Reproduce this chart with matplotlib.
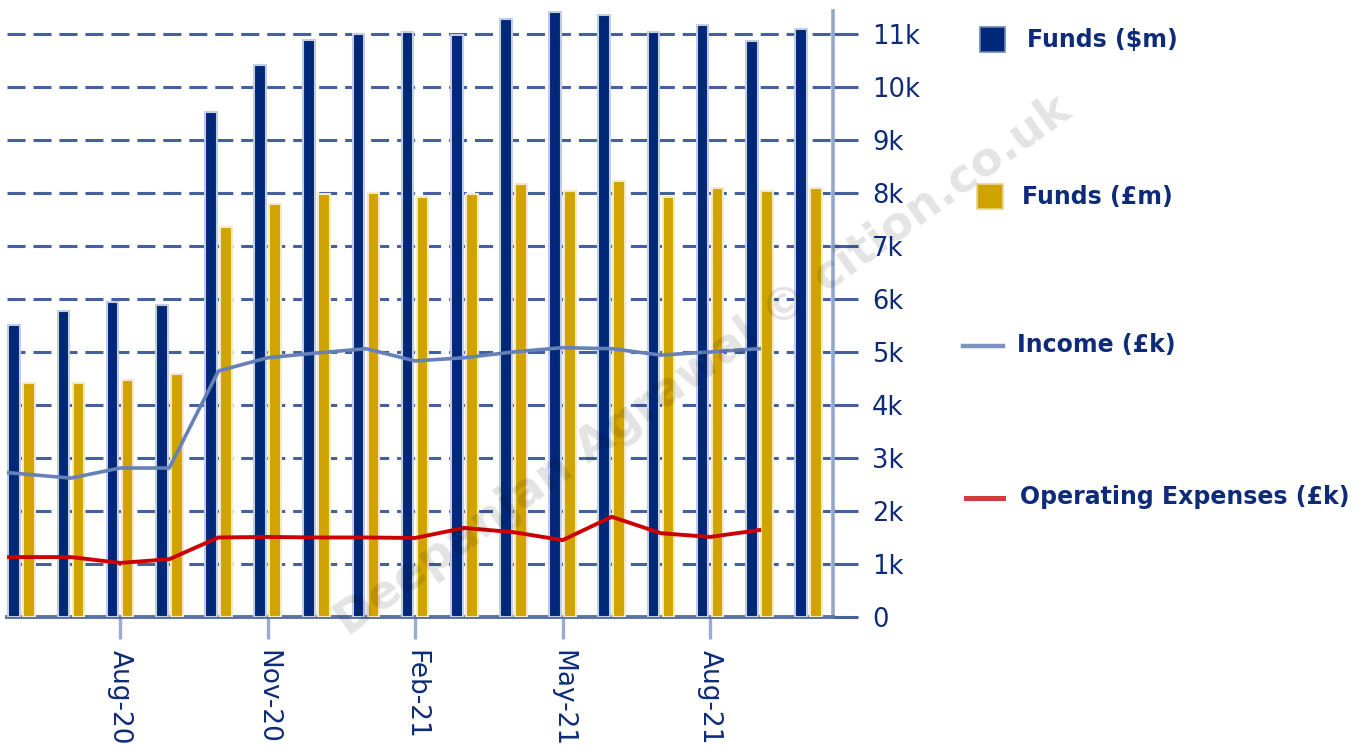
import numpy as np
import matplotlib
matplotlib.use("Agg")
import matplotlib.pyplot as plt
from matplotlib.patches import Rectangle
from matplotlib.lines import Line2D

# months shown as bar groups (Jun-20 .. Oct-21)
months = ['Jun-20', 'Jul-20', 'Aug-20', 'Sep-20', 'Oct-20', 'Nov-20', 'Dec-20', 'Jan-21',
          'Feb-21', 'Mar-21', 'Apr-21', 'May-21', 'Jun-21', 'Jul-21', 'Aug-21', 'Sep-21', 'Oct-21']
funds_usd = [5510, 5770, 5940, 5890, 9530, 10420, 10890, 11000, 11040, 10980,
             11280, 11420, 11360, 11040, 11170, 10870, 11090]
funds_gbp = [4420, 4420, 4470, 4580, 7360, 7790, 7980, 8000, 7920, 7980,
             8170, 8040, 8230, 7920, 8090, 8040, 8090]

# line series run from May-20 (just off the left edge) to Sep-21
line_months = ['May-20'] + months[:16]
income = [2780, 2700, 2620, 2810, 2810, 4640, 4890, 4980, 5060, 4830, 4890,
          5000, 5080, 5060, 4940, 5000, 5060]
opex = [1130, 1130, 1130, 1020, 1090, 1500, 1510, 1500, 1500, 1490, 1680,
        1600, 1450, 1890, 1580, 1510, 1640]

shown_ticks = ['Aug-20', 'Nov-20', 'Feb-21', 'May-21', 'Aug-21']
legend_labels = ['Funds ($m)', 'Funds (£m)', 'Income (£k)', 'Operating Expenses (£k)']

NAVY = '#002878'
GOLD = '#d0a300'
INCOME_C = '#6680b8'
RED = '#cc0000'
GRID = '#45609e'
TXT = '#0d2b78'

W, H = 1358, 747
fig = plt.figure(figsize=(W / 100, H / 100), dpi=100)
ax = fig.add_axes([7 / W, 130 / H, (833 - 7) / W, (617 - 11) / H])

x = np.arange(len(months))
xl = np.arange(-1, len(line_months) - 1)
off = 0.152
ax.bar(x - off, funds_usd, width=0.235, color=NAVY, edgecolor='#c3cce2', linewidth=1.5, zorder=3)
ax.bar(x + off, funds_gbp, width=0.235, color=GOLD, edgecolor='#f3e9c4', linewidth=1.5, zorder=3)
ax.plot(xl, income, color=INCOME_C, lw=2.6, zorder=4, solid_joinstyle='round')
ax.plot(xl, opex, color=RED, lw=2.8, zorder=4, solid_joinstyle='round')

ax.set_xlim(-0.3, 16.5)
ax.set_ylim(0, 11430)

ax.yaxis.tick_right()
ax.set_yticks(np.arange(0, 11001, 1000))
ax.set_yticklabels(['0'] + [f'{k}k' for k in range(1, 12)])
ax.set_xticks([months.index(m) for m in shown_ticks])
ax.set_xticklabels(shown_ticks, rotation=-90)

ax.grid(axis='y', color=GRID, lw=2.2, linestyle=(0, (5.9, 2.6)), zorder=0)
ax.set_axisbelow(True)

for s in ['left', 'top']:
    ax.spines[s].set_visible(False)
ax.spines['bottom'].set_color('#5a70a8')
ax.spines['bottom'].set_linewidth(2.8)
ax.spines['right'].set_color('#95a6cc')
ax.spines['right'].set_linewidth(2.6)

ax.tick_params(axis='y', direction='out', length=18, width=2.2, color=GRID,
               pad=10, labelsize=18.5, labelcolor=TXT)
ax.tick_params(axis='x', direction='out', length=16, width=2.4, color='#9aaad0',
               pad=8, labelsize=19, labelcolor=TXT)
for lab in ax.get_yticklabels():
    lab.set_horizontalalignment('left')

# legend drawn by hand, entries spaced down the right side
def fx(px):
    return px / W

def fy(py):
    return 1 - py / H

fig.patches.append(Rectangle((fx(980), fy(52)), 25 / W, 25 / H, transform=fig.transFigure,
                             facecolor=NAVY, edgecolor='#6f86b8', lw=1.2))
fig.patches.append(Rectangle((fx(977), fy(209)), 26 / W, 25 / H, transform=fig.transFigure,
                             facecolor=GOLD, edgecolor='#ead68a', lw=1.2))
fig.lines.append(Line2D([fx(963), fx(1003)], [fy(346), fy(346)], transform=fig.transFigure,
                        color='#7d93c4', lw=3.2))
fig.lines.append(Line2D([fx(966), fx(1003)], [fy(498), fy(498)], transform=fig.transFigure,
                        color='#d23c3c', lw=3.6))
leg_pos = [(1027, 40), (1022, 197), (1017, 345), (1020, 497)]
for lbl, (px, py) in zip(legend_labels, leg_pos):
    fig.text(fx(px), fy(py), lbl, ha='left', va='center', fontsize=17,
             fontweight='bold', color=TXT)

# watermark
fig.text(0.518, 0.51, 'Deepanjan Agrawal © cition.co.uk', rotation=35.7,
         rotation_mode='anchor', ha='center', va='center', fontsize=33.5,
         fontweight='bold', color='black', alpha=0.11, zorder=20)

fig.savefig('out.png', dpi=100)
